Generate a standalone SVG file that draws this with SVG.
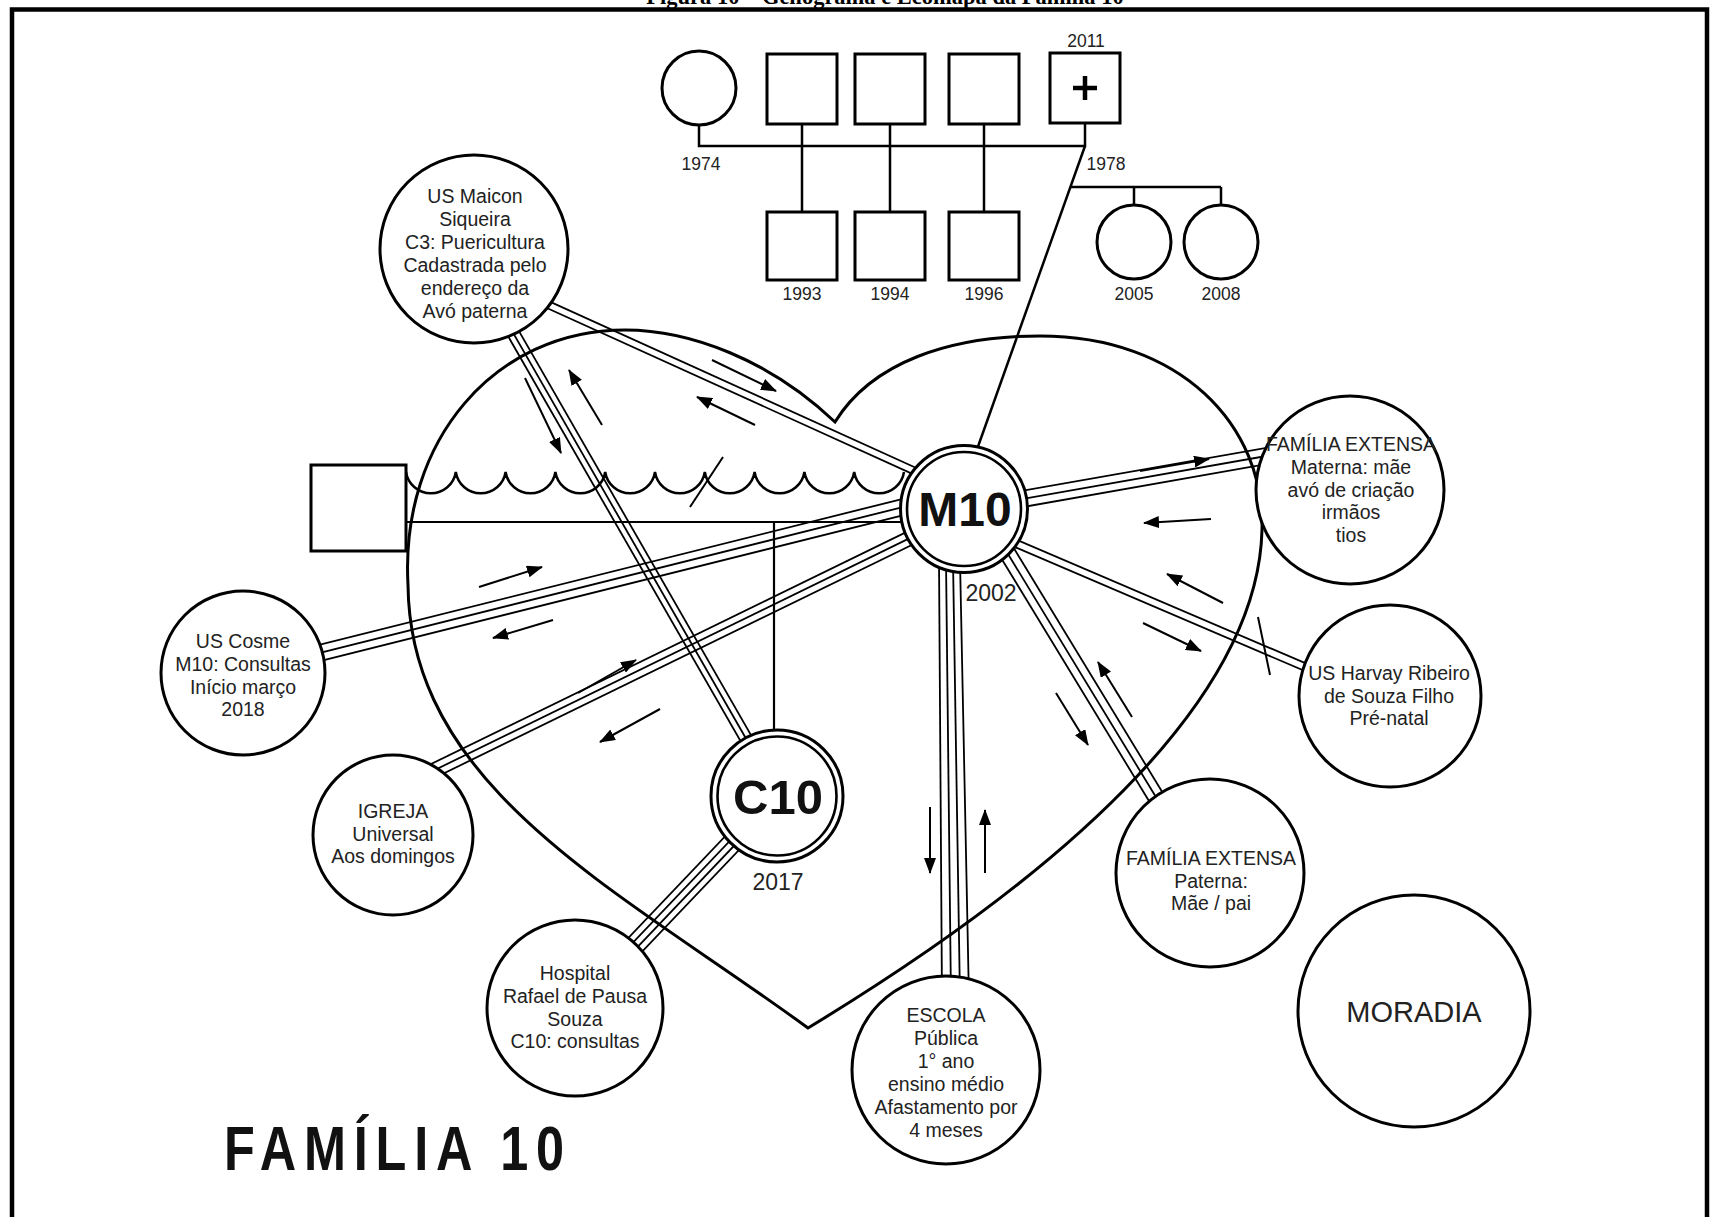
<svg xmlns="http://www.w3.org/2000/svg" width="1711" height="1217" viewBox="0 0 1711 1217">
<style>
  .frame{fill:none;stroke:#000;stroke-width:4.5}
  .heart{fill:none;stroke:#000;stroke-width:3}
  .ln{fill:none;stroke:#000;stroke-width:2.5}
  .sq{fill:#fff;stroke:#000;stroke-width:3}
  .nd{fill:#fff;stroke:#000;stroke-width:3}
  .ring{fill:none;stroke:#000;stroke-width:2.6}
  .tx{font-family:"Liberation Sans",Arial,sans-serif;font-size:19.5px;fill:#222;text-anchor:middle}
  .yr{font-family:"Liberation Sans",Arial,sans-serif;font-size:17.5px;fill:#222;text-anchor:middle}
  .since{font-family:"Liberation Sans",Arial,sans-serif;font-size:23px;fill:#222;text-anchor:middle}
  .home{font-family:"Liberation Sans",Arial,sans-serif;font-size:29px;fill:#222;text-anchor:middle}
  .big{font-family:"Liberation Sans",Arial,sans-serif;font-weight:bold;fill:#111;text-anchor:middle}
  .title{font-family:"Liberation Sans",Arial,sans-serif;font-weight:bold;font-size:63px;fill:#111;text-anchor:start}
  .arw{stroke:#000;stroke-width:2;fill:none;marker-end:url(#ah)}
  .cap{font-family:"Liberation Serif","Times New Roman",serif;font-weight:bold;font-size:22.5px;fill:#000;text-anchor:middle}
</style>
<defs>
  <marker id="ah" markerWidth="16" markerHeight="12" refX="15" refY="6" orient="auto" markerUnits="userSpaceOnUse">
    <path d="M0,0 L16,6 L0,12 Z" fill="#000"/>
  </marker>
  <!-- centre lines of the multi-stroke ties; copies are offset sideways -->
  <line id="tieA" x1="525.7" y1="294.6" x2="935.3" y2="480.4"/>
  <line id="tieB" x1="496.1" y1="303.3" x2="759.9" y2="762.7"/>
  <line id="tieC" x1="1000" y1="502.9" x2="1290" y2="451.8"/>
  <line id="tieD" x1="280" y1="662.8" x2="940" y2="497.8"/>
  <line id="tieE" x1="420" y1="777.2" x2="940" y2="523.4"/>
  <line id="tieF" x1="575" y1="1008" x2="777" y2="796"/>
  <line id="tieH" x1="999.5" y1="540" x2="1176" y2="830"/>
  <line id="tieI" x1="1010" y1="541" x2="1340" y2="682"/>
</defs>

<rect width="1711" height="1217" fill="#fff"/>

<!-- caption, cut by the top edge -->
<text class="cap" x="885" y="4">Figura 10 – Genograma e Ecomapa da Família 10</text>

<!-- frame -->
<path class="frame" d="M12,1217 V9.5 H1707 V1217"/>

<!-- household boundary -->
<path id="household" class="heart" d="M808,1028 C620,890 410,790 408,585 C400,440 495,330 625,330 C690,330 770,360 835,422 C872,362 950,336 1040,336 C1180,336 1265,425 1262,530 C1258,690 1085,860 808,1028 Z"/>

<!-- genogram -->
<g id="genogram">
  <g class="ln">
    <path d="M699,125 V146 H1085 V123"/>
    <path d="M802,124 V212 M890,124 V212 M984,124 V212"/>
    <path d="M1085,146 L975,455"/>
    <path d="M1071,187 H1221 M1134,187 V205 M1221,187 V205"/>
  </g>
  <g id="gen-mother"><circle class="sq" cx="699" cy="88" r="37"/><text class="yr" x="701" y="170">1974</text></g>
  <g id="gen-sib1"><rect class="sq" x="767" y="54" width="70" height="70"/></g>
  <g id="gen-sib2"><rect class="sq" x="855" y="54" width="70" height="70"/></g>
  <g id="gen-sib3"><rect class="sq" x="949" y="54" width="70" height="70"/></g>
  <g id="gen-father">
    <rect class="sq" x="1050" y="53" width="70" height="70"/>
    <path d="M1085,76 V100 M1073,88 H1097" stroke="#000" stroke-width="4.5"/>
    <text class="yr" x="1086" y="47">2011</text>
    <text class="yr" x="1106" y="170">1978</text>
  </g>
  <g id="gen-son1993"><rect class="sq" x="767" y="212" width="70" height="68"/><text class="yr" x="802" y="300">1993</text></g>
  <g id="gen-son1994"><rect class="sq" x="855" y="212" width="70" height="68"/><text class="yr" x="890" y="300">1994</text></g>
  <g id="gen-son1996"><rect class="sq" x="949" y="212" width="70" height="68"/><text class="yr" x="984" y="300">1996</text></g>
  <g id="gen-dau2005"><circle class="sq" cx="1134" cy="242" r="37"/><text class="yr" x="1134" y="300">2005</text></g>
  <g id="gen-dau2008"><circle class="sq" cx="1221" cy="242" r="37"/><text class="yr" x="1221" y="300">2008</text></g>
</g>

<!-- partner and couple ties -->
<g id="partner"><rect class="sq" x="311" y="465" width="95" height="86"/></g>
<g id="couple-ties" class="ln">
  <path d="M406,472 a25.2,25.2 0 0 0 49.8,0 a25.2,25.2 0 0 0 49.8,0 a25.2,25.2 0 0 0 49.8,0 a25.2,25.2 0 0 0 49.8,0 a25.2,25.2 0 0 0 49.8,0 a25.2,25.2 0 0 0 49.8,0 a25.2,25.2 0 0 0 49.8,0 a25.2,25.2 0 0 0 49.8,0 a25.2,25.2 0 0 0 49.8,0 a25.2,25.2 0 0 0 49.8,0"/>
  <path d="M690,507 L723,457" stroke-width="2"/>
  <path d="M406,522 H960" stroke-width="2.2"/>
  <path d="M774,522 V760" stroke-width="2.2"/>
</g>

<!-- ecomap ties -->
<g id="connectors" stroke="#000" stroke-width="1.8" fill="none">
  <g id="tie-maicon-m10">
    <use href="#tieA" transform="translate(-1.45,3.19)"/>
    <use href="#tieA" transform="translate(1.45,-3.19)"/>
  </g>
  <g id="tie-maicon-c10">
    <use href="#tieB"/>
    <use href="#tieB" transform="translate(-5.2,3)"/>
    <use href="#tieB" transform="translate(5.2,-3)"/>
  </g>
  <g id="tie-m10-materna">
    <use href="#tieC"/>
    <use href="#tieC" transform="translate(1.39,7.9)"/>
    <use href="#tieC" transform="translate(-1.39,-7.9)"/>
  </g>
  <g id="tie-cosme-m10">
    <use href="#tieD"/>
    <use href="#tieD" transform="translate(1.94,7.76)"/>
    <use href="#tieD" transform="translate(-1.94,-7.76)"/>
  </g>
  <g id="tie-igreja-m10">
    <use href="#tieE"/>
    <use href="#tieE" transform="translate(3.07,6.29)"/>
    <use href="#tieE" transform="translate(-3.07,-6.29)"/>
  </g>
  <g id="tie-hospital-c10">
    <use href="#tieF" transform="translate(2.35,2.24)"/>
    <use href="#tieF" transform="translate(-2.35,-2.24)"/>
    <use href="#tieF" transform="translate(7.06,6.72)"/>
    <use href="#tieF" transform="translate(-7.06,-6.72)"/>
  </g>
  <g id="tie-m10-escola">
    <line x1="939" y1="560" x2="942" y2="1000"/>
    <line x1="946" y1="560" x2="951" y2="1000"/>
    <line x1="953" y1="560" x2="960" y2="1000"/>
    <line x1="960" y1="560" x2="969" y2="1000"/>
  </g>
  <g id="tie-m10-paterna">
    <use href="#tieH"/>
    <use href="#tieH" transform="translate(-6.8,4.2)"/>
    <use href="#tieH" transform="translate(6.8,-4.2)"/>
  </g>
  <g id="tie-m10-harvay">
    <use href="#tieI" transform="translate(-1.45,3.4)"/>
    <use href="#tieI" transform="translate(1.45,-3.4)"/>
    <line x1="1258" y1="617" x2="1270" y2="675" stroke-width="2"/>
  </g>
</g>

<!-- flow arrows -->
<g id="flows">
  <line class="arw" x1="712" y1="360" x2="776" y2="391"/>
  <line class="arw" x1="755" y1="425" x2="697" y2="397"/>
  <line class="arw" x1="525" y1="378" x2="561" y2="453"/>
  <line class="arw" x1="602" y1="425" x2="569" y2="370"/>
  <line class="arw" x1="1140" y1="471" x2="1209" y2="459"/>
  <line class="arw" x1="1211" y1="519" x2="1144" y2="523"/>
  <line class="arw" x1="479" y1="587" x2="542" y2="567"/>
  <line class="arw" x1="553" y1="620" x2="493" y2="638"/>
  <line class="arw" x1="578" y1="693" x2="636" y2="660"/>
  <line class="arw" x1="660" y1="709" x2="600" y2="742"/>
  <line class="arw" x1="930" y1="807" x2="930" y2="873"/>
  <line class="arw" x1="985" y1="873" x2="985" y2="810"/>
  <line class="arw" x1="1056" y1="693" x2="1088" y2="745"/>
  <line class="arw" x1="1132" y1="717" x2="1098" y2="662"/>
  <line class="arw" x1="1223" y1="603" x2="1167" y2="574"/>
  <line class="arw" x1="1143" y1="623" x2="1201" y2="651"/>
</g>

<!-- ecomap nodes -->
<g id="m10">
  <circle class="nd" cx="964" cy="509" r="63.5"/>
  <circle class="ring" cx="964" cy="509" r="57"/>
  <text class="big" x="965" y="526" font-size="48">M10</text>
  <text class="since" x="991" y="601">2002</text>
</g>
<g id="c10">
  <circle class="nd" cx="777" cy="796" r="66"/>
  <circle class="ring" cx="777" cy="796" r="59.5"/>
  <text class="big" x="778" y="814" font-size="49">C10</text>
  <text class="since" x="778" y="890">2017</text>
</g>
<g id="us-maicon">
  <circle class="nd" cx="474" cy="249" r="94"/>
  <text class="tx" x="475" y="203">US Maicon</text>
  <text class="tx" x="475" y="226">Siqueira</text>
  <text class="tx" x="475" y="249">C3: Puericultura</text>
  <text class="tx" x="475" y="272">Cadastrada pelo</text>
  <text class="tx" x="475" y="295">endereço da</text>
  <text class="tx" x="475" y="318">Avó paterna</text>
</g>
<g id="familia-materna">
  <circle class="nd" cx="1350" cy="490" r="94"/>
  <text class="tx" x="1351" y="451">FAMÍLIA EXTENSA</text>
  <text class="tx" x="1351" y="474">Materna: mãe</text>
  <text class="tx" x="1351" y="497">avó de criação</text>
  <text class="tx" x="1351" y="519">irmãos</text>
  <text class="tx" x="1351" y="542">tios</text>
</g>
<g id="us-cosme">
  <circle class="nd" cx="243" cy="673" r="82"/>
  <text class="tx" x="243" y="648">US Cosme</text>
  <text class="tx" x="243" y="671">M10: Consultas</text>
  <text class="tx" x="243" y="694">Início março</text>
  <text class="tx" x="243" y="716">2018</text>
</g>
<g id="igreja">
  <circle class="nd" cx="393" cy="835" r="80"/>
  <text class="tx" x="393" y="818">IGREJA</text>
  <text class="tx" x="393" y="841">Universal</text>
  <text class="tx" x="393" y="863">Aos domingos</text>
</g>
<g id="hospital">
  <circle class="nd" cx="575" cy="1008" r="88"/>
  <text class="tx" x="575" y="980">Hospital</text>
  <text class="tx" x="575" y="1003">Rafael de Pausa</text>
  <text class="tx" x="575" y="1026">Souza</text>
  <text class="tx" x="575" y="1048">C10: consultas</text>
</g>
<g id="escola">
  <circle class="nd" cx="946" cy="1070" r="94"/>
  <text class="tx" x="946" y="1022">ESCOLA</text>
  <text class="tx" x="946" y="1045">Pública</text>
  <text class="tx" x="946" y="1068">1° ano</text>
  <text class="tx" x="946" y="1091">ensino médio</text>
  <text class="tx" x="946" y="1114">Afastamento por</text>
  <text class="tx" x="946" y="1137">4 meses</text>
</g>
<g id="familia-paterna">
  <circle class="nd" cx="1210" cy="873" r="94"/>
  <text class="tx" x="1211" y="865">FAMÍLIA EXTENSA</text>
  <text class="tx" x="1211" y="888">Paterna:</text>
  <text class="tx" x="1211" y="910">Mãe / pai</text>
</g>
<g id="us-harvay">
  <circle class="nd" cx="1390" cy="696" r="91"/>
  <text class="tx" x="1389" y="680">US Harvay Ribeiro</text>
  <text class="tx" x="1389" y="703">de Souza Filho</text>
  <text class="tx" x="1389" y="725">Pré-natal</text>
</g>
<g id="moradia">
  <circle class="nd" cx="1414" cy="1011" r="116"/>
  <text class="home" x="1414" y="1022">MORADIA</text>
</g>

<!-- title -->
<text class="title" transform="translate(224,1170) scale(0.8,1)" x="0" y="0" textLength="425" lengthAdjust="spacing">FAMÍLIA 10</text>
</svg>
